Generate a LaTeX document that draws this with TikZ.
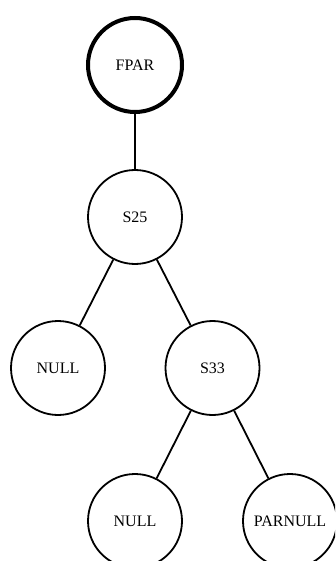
\documentclass[tikz,border=0pt]{standalone}
\usepackage{fontspec}
\setmainfont{Liberation Serif}
\begin{document}
\begin{tikzpicture}[x=1pt,y=-1pt,
  treenode/.style={circle,draw,line width=1.8pt,minimum size=94pt,inner sep=0pt,font=\fontsize{16}{19}\selectfont},
  rootnode/.style={treenode,line width=4pt},
  edge/.style={line width=1.8pt}]
\clip (0,0) rectangle (335,561);
\node[rootnode] (fpar) at (135,65) {FPAR};
\node[treenode] (s25) at (135,217) {S25};
\node[treenode] (null1) at (58,368) {NULL};
\node[treenode] (s33) at (212.5,368) {S33};
\node[treenode] (null2) at (135,521) {NULL};
\node[treenode] (parnull) at (290,521) {PARNULL};
\draw[edge] (fpar) -- (s25);
\draw[edge] (s25) -- (null1);
\draw[edge] (s25) -- (s33);
\draw[edge] (s33) -- (null2);
\draw[edge] (s33) -- (parnull);
\end{tikzpicture}
\end{document}
